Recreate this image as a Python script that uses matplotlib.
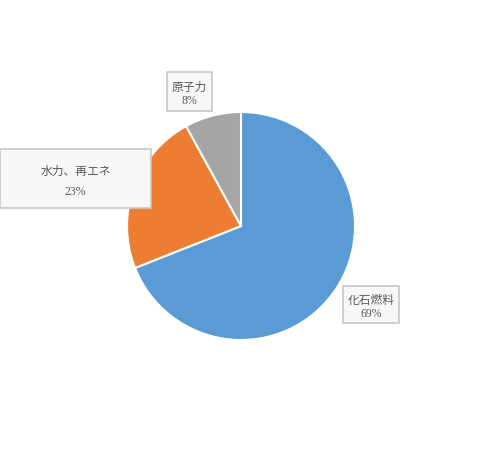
import matplotlib
matplotlib.use("Agg")
import matplotlib.pyplot as plt
from matplotlib.patches import Rectangle

plt.rcParams['font.family'] = ['Noto Sans CJK JP', 'DejaVu Sans']

labels = ['化石燃料', '水力、再エネ', '原子力']
values = [69, 23, 8]
colors = ['#5b9bd5', '#ed7d31', '#a5a5a5']

W, H = 481, 452
fig = plt.figure(figsize=(W/100, H/100), dpi=100)
cx, cy, r = 241, 227, 114
ax = fig.add_axes([(cx-r)/W, (H-cy-r)/H, 2*r/W, 2*r/H])
ax.pie(values, colors=colors, startangle=90, counterclock=False,
       wedgeprops=dict(edgecolor='white', linewidth=1.5))
ax.set_xlim(-1, 1); ax.set_ylim(-1, 1)
ax.set_aspect('auto')
ax.axis('off')

boxes = [  # x0, y0(top), w, h in pixels
    (343, 287, 56, 37),
    (0, 150, 151, 59),
    (167, 73, 45, 39),
]
for (x0, y0, w, h), lab, v in zip(boxes, labels, values):
    fig.patches.append(Rectangle((x0/W, 1-(y0+h)/H), w/W, h/H, transform=fig.transFigure,
                                 facecolor='#f7f7f7', edgecolor='#c8c8c8', linewidth=1.2))
    xc = (x0 + w/2)/W
    fig.text(xc, 1-(y0+h*0.36)/H, lab, ha='center', va='center', fontsize=8.5, color='#595959')
    fig.text(xc, 1-(y0+h*0.72)/H, f'{v}%', ha='center', va='center', fontsize=8.5,
             color='#595959', family='Liberation Serif')

fig.savefig('out.png', dpi=100, facecolor='white')
